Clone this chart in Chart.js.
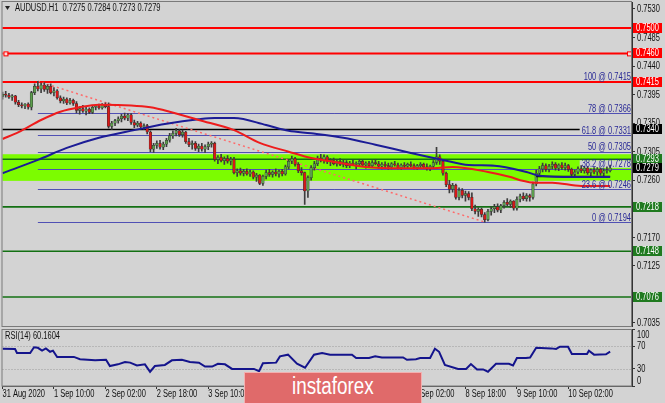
<!DOCTYPE html>
<html>
<head>
<meta charset="utf-8">
<script src="https://cdn.jsdelivr.net/npm/chart.js@4.4.1/dist/chart.umd.min.js"></script>
<style>
html, body { margin: 0; padding: 0; background: #d3d3d3; }
#wrap { position: relative; width: 665px; height: 403px; overflow: hidden; background: #d3d3d3; }
#main { position: absolute; left: 0; top: 0; }
#rsi { position: absolute; left: 0; top: 327px; }
#wm {
    position: absolute; left: 244px; top: 372px; width: 176px; height: 31px;
    background: #e06a6a; border: 1px solid #f3b0b0; border-bottom: none;
    color: #fff; text-align: center; line-height: 31px; overflow: hidden;
}
#wm span { display: inline-block; font: 23px "Liberation Sans", sans-serif; transform: scaleX(0.82); }
</style>
</head>
<body>
<div id="wrap">
    <canvas id="main" width="665" height="329"></canvas>
    <canvas id="rsi" width="665" height="76"></canvas>
    <div id="wm"><span>instaforex</span></div>
</div>
<script>
// AUDUSD H1, one value per bar (bar 0 = 31 Aug 18:00)
const opens = [
    .7392,.7396,.7394,.7391,.7393,.7383,.7379,.7377,.7380,.7375,
    .7398,.7408,.7404,.7410,.7403,.7408,.7398,.7401,.7390,.7385,
    .7388,.7382,.7386,.7381,.7370,.7373,.7369,.7372,.7367,.7375,
    .7377,.7374,.7379,.7376,.7345,.7350,.7354,.7357,.7361,.7358,
    .7363,.7351,.7347,.7350,.7344,.7346,.7336,.7309,.7315,.7318,
    .7312,.7317,.7323,.7330,.7334,.7338,.7332,.7336,.7321,.7316,
    .7318,.7310,.7314,.7309,.7313,.7317,.7318,.7293,.7296,.7291,
    .7294,.7290,.7293,.7272,.7275,.7271,.7274,.7270,.7273,.7265,
    .7268,.7255,.7266,.7272,.7269,.7273,.7270,.7274,.7270,.7281,
    .7290,.7294,.7285,.7275,.7272,.7243,.7264,.7280,.7286,.7295,
    .7292,.7297,.7289,.7291,.7286,.7290,.7285,.7288,.7283,.7287,
    .7285,.7286,.7290,.7284,.7287,.7283,.7288,.7286,.7282,.7285,
    .7283,.7281,.7286,.7284,.7280,.7284,.7282,.7285,.7283,.7280,
    .7283,.7285,.7281,.7278,.7282,.7288,.7297,.7290,.7271,.7253,
    .7246,.7252,.7233,.7244,.7236,.7239,.7233,.7215,.7211,.7214,
    .7206,.7198,.7211,.7215,.7218,.7213,.7220,.7225,.7222,.7227,
    .7216,.7230,.7235,.7231,.7236,.7233,.7254,.7271,.7278,.7283,
    .7277,.7282,.7285,.7279,.7284,.7280,.7283,.7277,.7269,.7273,
    .7278,.7275,.7279,.7272,.7276,.7273,.7277,.7271,.7275,.7275
];
const highs = [
    .7399,.7400,.7397,.7395,.7394,.7386,.7382,.7381,.7382,.7400,
    .7412,.7416,.7413,.7414,.7411,.7412,.7406,.7403,.7393,.7391,
    .7390,.7389,.7388,.7384,.7376,.7378,.7375,.7374,.7377,.7379,
    .7380,.7381,.7382,.7382,.7353,.7356,.7360,.7364,.7366,.7365,
    .7365,.7355,.7353,.7352,.7349,.7348,.7338,.7318,.7322,.7323,
    .7320,.7326,.7334,.7338,.7342,.7340,.7339,.7337,.7326,.7322,
    .7321,.7317,.7318,.7316,.7320,.7321,.7320,.7299,.7301,.7297,
    .7299,.7296,.7296,.7278,.7279,.7277,.7278,.7276,.7275,.7271,
    .7269,.7268,.7276,.7277,.7275,.7278,.7276,.7277,.7284,.7293,
    .7298,.7296,.7288,.7280,.7273,.7267,.7283,.7290,.7298,.7301,
    .7300,.7299,.7294,.7295,.7293,.7294,.7292,.7291,.7290,.7292,
    .7289,.7293,.7292,.7289,.7290,.7291,.7293,.7290,.7288,.7289,
    .7287,.7288,.7290,.7287,.7286,.7288,.7287,.7289,.7286,.7285,
    .7288,.7287,.7286,.7284,.7291,.7312,.7300,.7293,.7273,.7260,
    .7255,.7254,.7248,.7247,.7243,.7242,.7240,.7221,.7217,.7216,
    .7209,.7214,.7218,.7222,.7223,.7222,.7228,.7231,.7229,.7228,
    .7234,.7238,.7240,.7239,.7238,.7257,.7276,.7282,.7287,.7286,
    .7285,.7289,.7288,.7286,.7288,.7287,.7285,.7279,.7276,.7281,
    .7283,.7282,.7281,.7278,.7280,.7280,.7279,.7278,.7281,.7284
];
const lows = [
    .7388,.7391,.7389,.7386,.7380,.7376,.7374,.7373,.7372,.7371,
    .7395,.7401,.7398,.7400,.7397,.7396,.7393,.7388,.7382,.7381,
    .7379,.7380,.7378,.7366,.7364,.7367,.7363,.7365,.7365,.7371,
    .7372,.7372,.7374,.7342,.7340,.7346,.7350,.7352,.7355,.7354,
    .7348,.7343,.7344,.7341,.7340,.7333,.7305,.7304,.7310,.7309,
    .7308,.7313,.7320,.7326,.7330,.7329,.7328,.7318,.7313,.7309,
    .7307,.7305,.7306,.7304,.7308,.7312,.7290,.7286,.7289,.7285,
    .7287,.7284,.7270,.7266,.7268,.7267,.7268,.7266,.7262,.7258,
    .7253,.7252,.7262,.7266,.7265,.7267,.7265,.7267,.7268,.7278,
    .7286,.7282,.7272,.7268,.7222,.7233,.7260,.7276,.7283,.7289,
    .7287,.7286,.7283,.7284,.7282,.7283,.7281,.7280,.7280,.7283,
    .7278,.7282,.7283,.7279,.7281,.7280,.7284,.7279,.7278,.7280,
    .7277,.7278,.7282,.7278,.7277,.7280,.7279,.7281,.7278,.7277,
    .7280,.7279,.7276,.7275,.7279,.7285,.7285,.7268,.7250,.7240,
    .7241,.7230,.7229,.7232,.7227,.7229,.7212,.7207,.7203,.7202,
    .7194,.7196,.7205,.7209,.7210,.7209,.7216,.7219,.7217,.7213,
    .7213,.7226,.7228,.7227,.7227,.7230,.7251,.7267,.7273,.7274,
    .7273,.7278,.7276,.7275,.7277,.7276,.7274,.7266,.7265,.7270,
    .7272,.7271,.7269,.7267,.7270,.7268,.7268,.7267,.7271,.7273
];
const closes = [
    .7396,.7394,.7391,.7393,.7383,.7379,.7377,.7380,.7375,.7398,
    .7408,.7404,.7410,.7403,.7408,.7398,.7401,.7390,.7385,.7388,
    .7382,.7386,.7381,.7370,.7373,.7369,.7372,.7367,.7375,.7377,
    .7374,.7379,.7376,.7345,.7350,.7354,.7357,.7361,.7358,.7363,
    .7351,.7347,.7350,.7344,.7346,.7336,.7309,.7315,.7318,.7312,
    .7317,.7323,.7330,.7334,.7338,.7332,.7336,.7321,.7316,.7318,
    .7310,.7314,.7309,.7313,.7317,.7318,.7293,.7296,.7291,.7294,
    .7290,.7293,.7272,.7275,.7271,.7274,.7270,.7273,.7265,.7268,
    .7255,.7266,.7272,.7269,.7273,.7270,.7274,.7270,.7281,.7290,
    .7294,.7285,.7275,.7272,.7243,.7264,.7280,.7286,.7295,.7292,
    .7297,.7289,.7291,.7286,.7290,.7285,.7288,.7283,.7287,.7285,
    .7286,.7290,.7284,.7287,.7283,.7288,.7286,.7282,.7285,.7283,
    .7281,.7286,.7284,.7280,.7284,.7282,.7285,.7283,.7280,.7283,
    .7285,.7281,.7278,.7282,.7288,.7297,.7290,.7271,.7253,.7246,
    .7252,.7233,.7244,.7236,.7239,.7233,.7215,.7211,.7214,.7206,
    .7198,.7211,.7215,.7218,.7213,.7220,.7225,.7222,.7227,.7216,
    .7230,.7235,.7231,.7236,.7233,.7254,.7271,.7278,.7283,.7277,
    .7282,.7285,.7279,.7284,.7280,.7283,.7277,.7269,.7273,.7278,
    .7275,.7279,.7272,.7276,.7273,.7277,.7271,.7275,.7276,.7279
];

// moving averages and RSI, [bar, value]
const redMA = [[0,.7325],[5,.7336],[12,.7355],[18,.7368],[24,.7375],[30,.7379],[40,.7378],[46,.7375],
    [52,.7368],[61,.7355],[72,.7339],[80,.7319],[89,.7305],[96,.7295],[103,.7289],[113,.7281],
    [124,.7279],[134,.7279],[140,.7281],[151,.7273],[158,.7265],[161,.7260],[166,.7256],[171,.7256],
    [180,.7251],[189,.7251]];
const blueMA = [[0,.7271],[11,.7292],[20,.7311],[30,.7327],[41,.7339],[51,.7349],[61,.7356],[66,.7358],
    [72,.7358],[82,.7347],[89,.7338],[96,.7334],[106,.7327],[116,.7316],[127,.7303],[137,.7292],
    [145,.7284],[153,.7283],[163,.7273],[167,.7267],[178,.7265],[189,.7265]];
const rsiPts = [[0,65.5],[3.9,65],[4.5,58],[8.6,58],[9.8,68],[11,67],[12.3,62],[13.5,66],[14.8,60],[15.7,62],
    [17,51],[22.2,51],[24.1,47],[28.8,45],[32.2,46],[33.4,35],[35.9,38],[38.1,42],[39.7,41],[41.8,36],
    [44.3,38],[45.9,25],[47.4,35],[50.5,37],[52.7,45],[55.8,46],[58.3,42],[61.1,41],[63,34],[65.2,34],
    [67,39],[69.2,38],[71.4,30],[78.2,30],[79.8,26],[81,40],[85.1,41],[86.3,52],[88.8,55],[91.6,39],
    [94.1,32],[96.9,55],[99.4,58],[101.9,55],[108.7,55],[110,49],[114,49],[115.9,52],[118,50],[124.6,50],
    [125.8,46],[128.6,47],[129.9,49],[133,49],[134.5,65.5],[135.8,60],[137.6,37],[141.7,30],[144.2,30],
    [145.7,38.5],[147.6,29],[149.5,29],[151,25],[153.5,39],[157.5,39],[158.8,36],[160,49],[162.8,49],
    [164.1,50],[166,67],[170.6,66],[172.2,65],[173.4,69],[175.9,69],[177.1,56],[181.8,56],[182.4,62],
    [184,55],[187.7,55.5],[189,60.16]];

// axes
const tickBars = [0,16,32,48,64,80,96,112,128,144,160,176];
const tickLabels = ['31 Aug 2020','1 Sep 10:00','2 Sep 02:00','2 Sep 18:00','3 Sep 10:00','4 Sep 02:00',
    '4 Sep 18:00','7 Sep 10:00','8 Sep 02:00','8 Sep 18:00','9 Sep 10:00','10 Sep 02:00'];
const priceTicks = [0.7035,0.7080,0.7125,0.7170,0.7215,0.7260,0.7305,0.7350,0.7395,0.7440,0.7485,0.7530];
const hiddenTicks = [0.7080,0.7215];
const rsiTicks = [0,30,70,100];

// levels drawn on the chart
const redLevels = [0.7500,0.7460,0.7415];
const greenLevels = [0.7293,0.7218,0.7148,0.7076];
const blackLevels = [0.7340];
const band = [0.7259,0.7301];
const fibRatios = ['100','78','61.8','50','38.2','23.6','0'];
const fibPrices = [0.7415,0.7366,0.7331,0.7305,0.7278,0.7246,0.7194];
const fibStart = 11;
const trendLine = [[11,0.7416],[150,0.7194]];
const shortLine = [[166,0.7266],[189,0.7266]];
const boxes = [[0.7500,'#ff0000'],[0.7460,'#ff0000'],[0.7415,'#ff0000'],[0.7340,'#000000'],
    [0.7293,'#1f7a1f'],[0.7279,'#000000'],[0.7218,'#1f7a1f'],[0.7148,'#1f7a1f'],[0.7076,'#1f7a1f']];
const header = 'AUDUSD.H1  0.7275 0.7284 0.7273 0.7279';

const FONT = '"Liberation Sans", Arial, sans-serif';
const NARROW = 0.75;
Chart.defaults.font.family = FONT;
Chart.defaults.font.size = 10;

const xMin = 0, xMax = 195.8;
const bars = opens.map((o, i) => i);

function hline(ctx, x1, x2, y, color, w, dash) {
    ctx.beginPath();
    ctx.strokeStyle = color;
    ctx.lineWidth = w;
    ctx.setLineDash(dash || []);
    ctx.moveTo(x1, y);
    ctx.lineTo(x2, y);
    ctx.stroke();
    ctx.setLineDash([]);
}

// condensed text, like the terminal's font
function txt(ctx, s, x, y, align, color, base) {
    ctx.save();
    ctx.font = '10px ' + FONT;
    ctx.fillStyle = color || '#111';
    ctx.textAlign = align || 'left';
    ctx.textBaseline = base || 'middle';
    ctx.translate(x, y);
    ctx.scale(NARROW, 1);
    ctx.fillText(s, 0, 0);
    ctx.restore();
}
function txtWidth(ctx, s) {
    ctx.save();
    ctx.font = '10px ' + FONT;
    const w = ctx.measureText(s).width * NARROW;
    ctx.restore();
    return w;
}

const levelPlugin = {
    id: 'levels',
    beforeDatasetsDraw(chart) {
        const { ctx, chartArea: a, scales: { x, y } } = chart;
        ctx.save();
        const bt = y.getPixelForValue(band[1]), bb = y.getPixelForValue(band[0]);
        ctx.fillStyle = '#7cfc00';
        ctx.fillRect(a.left, bt, a.right - a.left, bb - bt);

        const fx = x.getPixelForValue(fibStart);
        fibPrices.forEach(p => hline(ctx, fx, a.right, Math.round(y.getPixelForValue(p)) + 0.5, '#5050b4', 1));
        greenLevels.forEach(p => hline(ctx, a.left, a.right, y.getPixelForValue(p), '#137013', 1.6));
        blackLevels.forEach(p => hline(ctx, a.left, a.right, y.getPixelForValue(p), '#000', 1.6));
        redLevels.forEach(p => hline(ctx, a.left, a.right, y.getPixelForValue(p), '#ff0000', 2));

        // label backgrounds
        fibPrices.forEach((p, k) => {
            const w = txtWidth(ctx, fibRatios[k] + ' @ ' + p.toFixed(4));
            const py = y.getPixelForValue(p);
            ctx.fillStyle = '#d3d3d3';
            ctx.fillRect(a.right - w - 3, py - 8.5, w + 3, 7.5);
        });
        ctx.restore();
    },
    afterDatasetsDraw(chart) {
        const { ctx, chartArea: a, scales: { y } } = chart;
        ctx.save();
        fibPrices.forEach((p, k) => {
            txt(ctx, fibRatios[k] + ' @ ' + p.toFixed(4), a.right - 1, y.getPixelForValue(p) - 1.5, 'right', '#2a2a96', 'alphabetic');
        });
        // end squares on the 0.7460 line
        const sy = y.getPixelForValue(redLevels[1]);
        [a.left + 1, a.right - 5].forEach(sx => {
            ctx.fillStyle = '#ffd8d8';
            ctx.fillRect(sx, sy - 2, 4, 4);
            ctx.strokeStyle = '#ff0000';
            ctx.lineWidth = 1;
            ctx.strokeRect(sx + 0.5, sy - 1.5, 4, 4);
        });
        ctx.restore();
    },
    afterDraw(chart) {
        const { ctx, chartArea: a, scales: { y } } = chart;
        ctx.save();
        ctx.strokeStyle = '#7a7a7a';
        ctx.lineWidth = 1;
        ctx.strokeRect(a.left - 0.5, a.top - 0.5, a.right - a.left, a.bottom - a.top + 1);

        // price scale labels
        y.ticks.forEach(t => {
            if (hiddenTicks.some(h => Math.abs(h - t.value) < 1e-6)) return;
            txt(ctx, t.value.toFixed(4), 637, y.getPixelForValue(t.value) + 0.5);
        });

        boxes.forEach(([p, c]) => {
            const py = Math.round(y.getPixelForValue(p));
            ctx.fillStyle = c;
            ctx.fillRect(633, py - 5, 29, 10);
            txt(ctx, p.toFixed(4), 636, py + 0.5, 'left', '#fff');
        });

        ctx.fillStyle = '#222';
        ctx.beginPath();
        ctx.moveTo(5, 6); ctx.lineTo(10, 6); ctx.lineTo(7.5, 10); ctx.closePath();
        ctx.fill();
        txt(ctx, header, 15, 8.5, 'left', '#111');
        ctx.restore();
    }
};

new Chart(document.getElementById('main'), {
    type: 'bar',
    data: {
        datasets: [
            {
                type: 'line', data: redMA.map(([x, y]) => ({ x, y })),
                borderColor: '#ee1c1c', borderWidth: 2, pointRadius: 0, cubicInterpolationMode: 'monotone', order: 0
            },
            {
                type: 'line', data: blueMA.map(([x, y]) => ({ x, y })),
                borderColor: '#1c1c96', borderWidth: 2, pointRadius: 0, cubicInterpolationMode: 'monotone', order: 0
            },
            {
                type: 'line', data: shortLine.map(([x, y]) => ({ x, y })),
                borderColor: '#101010', borderWidth: 1.5, pointRadius: 0, order: 0
            },
            {
                data: bars.map(i => ({ x: i, y: [opens[i], closes[i]] })),
                backgroundColor: bars.map(i => closes[i] >= opens[i] ? '#5c9e4c' : '#d81818'),
                borderColor: '#303030', borderWidth: 0.5, borderSkipped: false,
                barThickness: 2.6, minBarLength: 1, grouped: false, order: 2
            },
            {
                data: bars.map(i => ({ x: i, y: [lows[i], highs[i]] })),
                backgroundColor: '#3c3c3c', barThickness: 1, grouped: false, order: 3
            },
            {
                type: 'line', data: trendLine.map(([x, y]) => ({ x, y })),
                borderColor: '#ff6a6a', borderWidth: 1.5, borderDash: [2, 3], pointRadius: 0, order: 4
            }
        ]
    },
    options: {
        responsive: false,
        animation: false,
        layout: { padding: { left: 2.5, top: 2, right: 0, bottom: 3 } },
        plugins: { legend: { display: false }, tooltip: { enabled: false } },
        scales: {
            x: { type: 'linear', min: xMin, max: xMax, offset: false, display: false, grid: { offset: false } },
            y: {
                position: 'right', min: 0.70302, max: 0.75410, beginAtZero: false,
                afterBuildTicks: s => { s.ticks = priceTicks.map(v => ({ value: v })); },
                afterFit: s => { s.width = 33; s.paddingTop = 0; s.paddingBottom = 0; },
                ticks: { padding: 2, callback: () => '' },
                grid: { drawOnChartArea: false, tickLength: 3, color: '#333' },
                border: { color: '#333' }
            }
        }
    },
    plugins: [levelPlugin]
});

const rsiPlugin = {
    id: 'rsiDeco',
    beforeDatasetsDraw(chart) {
        const { ctx, chartArea: a, scales: { y } } = chart;
        ctx.save();
        [30, 70].forEach(v => hline(ctx, a.left, a.right, Math.round(y.getPixelForValue(v)) + 0.5, '#9a9a9a', 1, [1, 2]));
        ctx.restore();
    },
    afterDraw(chart) {
        const { ctx, chartArea: a, scales: { x, y } } = chart;
        ctx.save();
        ctx.strokeStyle = '#7a7a7a';
        ctx.lineWidth = 1;
        ctx.strokeRect(a.left - 0.5, a.top + 0.5, a.right - a.left, a.bottom - a.top - 0.5);
        rsiTicks.forEach(v => {
            const py = Math.min(Math.max(y.getPixelForValue(v), a.top + 6), a.bottom - 5);
            txt(ctx, String(v), 637, py);
        });
        x.ticks.forEach(t => {
            const k = tickBars.indexOf(t.value);
            if (k >= 0) txt(ctx, tickLabels[k], x.getPixelForValue(t.value), a.bottom + 8);
        });
        txt(ctx, 'RSI(14) 60.1604', 5, a.top + 7);
        ctx.restore();
    }
};

new Chart(document.getElementById('rsi'), {
    type: 'line',
    data: {
        datasets: [{
            data: rsiPts.map(([x, y]) => ({ x, y })),
            borderColor: '#14148c', borderWidth: 2, pointRadius: 0, tension: 0
        }]
    },
    options: {
        responsive: false,
        animation: false,
        layout: { padding: { left: 2.5, top: 2, right: 0, bottom: 0 } },
        plugins: { legend: { display: false }, tooltip: { enabled: false } },
        scales: {
            x: {
                type: 'linear', min: xMin, max: xMax, offset: false,
                afterBuildTicks: s => { s.ticks = tickBars.map(v => ({ value: v })); },
                afterFit: s => { s.height = 17; s.paddingLeft = 0; s.paddingRight = 0; },
                ticks: { autoSkip: false, maxRotation: 0, callback: () => '' },
                grid: { drawOnChartArea: false, tickLength: 3, color: '#333' },
                border: { color: '#555' }
            },
            y: {
                position: 'right', min: 0, max: 100,
                afterBuildTicks: s => { s.ticks = rsiTicks.map(v => ({ value: v })); },
                afterFit: s => { s.width = 33; s.paddingTop = 0; s.paddingBottom = 0; },
                ticks: { callback: () => '', padding: 0 },
                grid: { drawOnChartArea: false, tickLength: 3, color: '#333' },
                border: { color: '#333' }
            }
        }
    },
    plugins: [rsiPlugin]
});
</script>
</body>
</html>
